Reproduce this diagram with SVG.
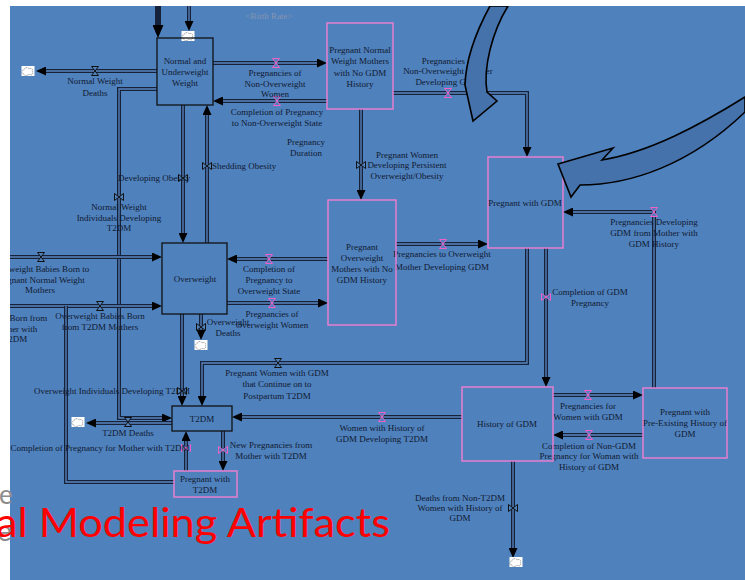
<svg xmlns="http://www.w3.org/2000/svg" width="745" height="580" viewBox="0 0 745 580">
<style>
.po{fill:none;stroke:#16223a;stroke-width:4}
.pi{fill:none;stroke:#5b87c0;stroke-width:1.3}
.nb{fill:none;stroke:#111;stroke-width:1.3}
.np{fill:none;stroke:#F27ED2;stroke-width:1.4}
.t{font-family:"Liberation Serif","Times New Roman",serif;font-size:9px;fill:#0f1a30;text-anchor:middle}
.ts{text-anchor:start}
.vk{fill:#4F81BD;stroke:#111;stroke-width:1}
.vp{fill:#4F81BD;stroke:#F060C8;stroke-width:1}
.big{fill:#4672AC;stroke:#000;stroke-width:1.6;stroke-linejoin:miter}
</style>
<defs>
<marker id="ah" viewBox="0 0 10 9" refX="0" refY="4.5" markerWidth="10" markerHeight="9" orient="auto" markerUnits="userSpaceOnUse"><path d="M0,0L10,4.5L0,9Z" fill="#000"/></marker>
<marker id="ahb" viewBox="0 0 13 11" refX="0" refY="5.5" markerWidth="13" markerHeight="11" orient="auto" markerUnits="userSpaceOnUse"><path d="M0,0L13,5.5L0,11Z" fill="#000"/></marker>
<path id="vh" d="M-3.5,-4.5H3.5L-3.5,4.5H3.5Z"/>
<path id="vv" d="M-4.5,-3.5V3.5L4.5,-3.5V3.5Z"/>
<g id="cloud"><rect x="-6.5" y="-5" width="13" height="10" fill="#fff"/><path d="M-4,3C-7,3 -7,-1 -4,-1C-4,-4 1,-4 1,-2C4,-4 6,0 4,1C6,3 3,5 1,3C0,5 -4,5 -4,3Z" fill="#fff" stroke="#888" stroke-width="0.8" stroke-dasharray="1.5 0.8"/></g>
</defs>
<rect x="0" y="0" width="745" height="580" fill="#4F81BD"/>
<text class="t" x="269" y="19" style="fill:#8796b0">&lt;Birth Rate&gt;</text>
<g id="connectors">
<path class="po" d="M158,6V25" style="stroke-width:6" marker-end="url(#ahb)"/>
<path class="po" d="M189,6V21" marker-end="url(#ah)"/><path class="pi" d="M189,6V21"/>
<path class="po" d="M157,71H46" marker-end="url(#ah)"/><path class="pi" d="M157,71H46"/>
<path class="po" d="M213,63H317" marker-end="url(#ah)"/><path class="pi" d="M213,63H317"/>
<path class="po" d="M327,101H223" marker-end="url(#ah)"/><path class="pi" d="M327,101H223"/>
<path class="po" d="M157,89H119V418H162" marker-end="url(#ah)"/><path class="pi" d="M157,89H119V418H162"/>
<path class="po" d="M172,423H96" marker-end="url(#ah)"/><path class="pi" d="M172,423H96"/>
<path class="po" d="M183,105V233" marker-end="url(#ah)"/><path class="pi" d="M183,105V233"/>
<path class="po" d="M207,243V115" marker-end="url(#ah)"/><path class="pi" d="M207,243V115"/>
<path class="po" d="M10,257H152" marker-end="url(#ah)"/><path class="pi" d="M10,257H152"/>
<path class="po" d="M10,306H152" marker-end="url(#ah)"/><path class="pi" d="M10,306H152"/>
<path class="po" d="M174,482H66V306"/><path class="pi" d="M174,482H66V306"/>
<path class="po" d="M328,259H237" marker-end="url(#ah)"/><path class="pi" d="M328,259H237"/>
<path class="po" d="M227,303H318" marker-end="url(#ah)"/><path class="pi" d="M227,303H318"/>
<path class="po" d="M201,314V330" marker-end="url(#ah)"/><path class="pi" d="M201,314V330"/>
<path class="po" d="M182,314V396" marker-end="url(#ah)"/><path class="pi" d="M182,314V396"/>
<path class="po" d="M527,248V363H202V396" marker-end="url(#ah)"/><path class="pi" d="M527,248V363H202V396"/>
<path class="po" d="M396,244H478" marker-end="url(#ah)"/><path class="pi" d="M396,244H478"/>
<path class="po" d="M361,109V190" marker-end="url(#ah)"/><path class="pi" d="M361,109V190"/>
<path class="po" d="M393,93H527V147" marker-end="url(#ah)"/><path class="pi" d="M393,93H527V147"/>
<path class="po" d="M654,388V212H573" marker-end="url(#ah)"/><path class="pi" d="M654,388V212H573"/>
<path class="po" d="M546,248V377" marker-end="url(#ah)"/><path class="pi" d="M546,248V377"/>
<path class="po" d="M553,395H633" marker-end="url(#ah)"/><path class="pi" d="M553,395H633"/>
<path class="po" d="M643,435H563" marker-end="url(#ah)"/><path class="pi" d="M643,435H563"/>
<path class="po" d="M462,417H242" marker-end="url(#ah)"/><path class="pi" d="M462,417H242"/>
<path class="po" d="M513,461V548" marker-end="url(#ah)"/><path class="pi" d="M513,461V548"/>
<path class="po" d="M186,471V441" marker-end="url(#ah)"/><path class="pi" d="M186,471V441"/>
<path class="po" d="M223,431V461" marker-end="url(#ah)"/><path class="pi" d="M223,431V461"/>
<use href="#cloud" x="28" y="71"/>
<use href="#cloud" x="188" y="36"/>
<use href="#cloud" x="201" y="345"/>
<use href="#cloud" x="78" y="422"/>
<use href="#cloud" x="516" y="562"/>
<use href="#vh" class="vk" x="95" y="71"/>
<use href="#vh" class="vp" x="276" y="63"/>
<use href="#vh" class="vp" x="277" y="101"/>
<use href="#vv" class="vk" x="119" y="197"/>
<use href="#vh" class="vk" x="128" y="422"/>
<use href="#vv" class="vk" x="183" y="178"/>
<use href="#vv" class="vk" x="207" y="166"/>
<use href="#vh" class="vk" x="41" y="257"/>
<use href="#vh" class="vk" x="100" y="306"/>
<use href="#vh" class="vp" x="269" y="259"/>
<use href="#vh" class="vp" x="272" y="303"/>
<use href="#vv" class="vk" x="201" y="327"/>
<use href="#vv" class="vk" x="182" y="391"/>
<use href="#vh" class="vk" x="278" y="363"/>
<use href="#vh" class="vp" x="443" y="244"/>
<use href="#vv" class="vk" x="361" y="165"/>
<use href="#vh" class="vp" x="448" y="93"/>
<use href="#vh" class="vp" x="654" y="212"/>
<use href="#vv" class="vp" x="546" y="297"/>
<use href="#vh" class="vp" x="588" y="395"/>
<use href="#vh" class="vp" x="589" y="435"/>
<use href="#vh" class="vp" x="382" y="417"/>
<use href="#vv" class="vk" x="513" y="508"/>
<use href="#vv" class="vp" x="186" y="448"/>
<use href="#vv" class="vp" x="223" y="450"/>
<text class="t" x="95" y="84">Normal Weight</text><text class="t" x="95" y="96">Deaths</text>
<text class="t" x="275" y="76">Pregnancies of</text><text class="t" x="275" y="87">Non-Overweight</text><text class="t" x="275" y="97">Women</text>
<text class="t" x="277" y="115">Completion of Pregnancy</text><text class="t" x="277" y="126">to Non-Overweight State</text>
<text class="t" x="306" y="145">Pregnancy</text><text class="t" x="306" y="156">Duration</text>
<text class="t" x="407" y="158">Pregnant Women</text><text class="t" x="407" y="168">Developing Persistent</text><text class="t" x="407" y="179">Overweight/Obesity</text>
<text class="t" x="448" y="64">Pregnancies to</text><text class="t" x="448" y="74">Non-Overweight Mother</text><text class="t" x="448" y="85">Developing GDM</text>
<text class="t ts" x="118" y="181">Developing Obesity</text>
<text class="t ts" x="212" y="169">Shedding Obesity</text>
<text class="t" x="119" y="210">Normal Weight</text><text class="t" x="119" y="221">Individuals Developing</text><text class="t" x="119" y="231">T2DM</text>
<text class="t" x="40" y="272">Overweight Babies Born to</text><text class="t" x="40" y="283">Pregnant Normal Weight</text><text class="t" x="40" y="293">Mothers</text>
<text class="t" x="15" y="321">Babies Born from</text><text class="t" x="15" y="332">Mother with</text><text class="t" x="15" y="342">T2DM</text>
<text class="t" x="100" y="319">Overweight Babies Born</text><text class="t" x="100" y="330">from T2DM Mothers</text>
<text class="t" x="269" y="272">Completion of</text><text class="t" x="269" y="283">Pregnancy to</text><text class="t" x="269" y="294">Overweight State</text>
<text class="t" x="272" y="317">Pregnancies of</text><text class="t" x="272" y="328">Overweight Women</text>
<text class="t" x="228" y="325">Overweight</text><text class="t" x="228" y="336">Deaths</text>
<text class="t" x="442" y="257">Pregnancies to Overweight</text><text class="t" x="442" y="270">Mother Developing GDM</text>
<text class="t" x="654" y="225">Pregnancies Developing</text><text class="t" x="654" y="236">GDM from Mother with</text><text class="t" x="654" y="247">GDM History</text>
<text class="t" x="590" y="295">Completion of GDM</text><text class="t" x="590" y="306">Pregnancy</text>
<text class="t" x="277" y="376">Pregnant Women with GDM</text><text class="t" x="277" y="387">that Continue on to</text><text class="t" x="277" y="399">Postpartum T2DM</text>
<text class="t" x="112" y="394">Overweight Individuals Developing T2DM</text>
<text class="t" x="128" y="436">T2DM Deaths</text>
<text class="t" x="100" y="451">Completion of Pregnancy for Mother with T2DM</text>
<text class="t" x="271" y="448">New Pregnancies from</text><text class="t" x="271" y="459">Mother with T2DM</text>
<text class="t" x="382" y="431">Women with History of</text><text class="t" x="382" y="442">GDM Developing T2DM</text>
<text class="t" x="588" y="409">Pregnancies for</text><text class="t" x="588" y="420">Women with GDM</text>
<text class="t" x="589" y="449">Completion of Non-GDM</text><text class="t" x="589" y="459">Pregnancy for Woman with</text><text class="t" x="589" y="470">History of GDM</text>
<text class="t" x="460" y="501">Deaths from Non-T2DM</text><text class="t" x="460" y="511">Women with History of</text><text class="t" x="460" y="521">GDM</text>
</g>
<g id="n-normal"><rect class="nb" x="157" y="38" width="56" height="67"/><text class="t" x="185" y="64">Normal and</text><text class="t" x="185" y="75">Underweight</text><text class="t" x="185" y="86">Weight</text></g>
<g id="n-pregnormal"><rect class="np" x="327" y="23" width="66" height="86"/><text class="t" x="360" y="53">Pregnant Normal</text><text class="t" x="360" y="64">Weight Mothers</text><text class="t" x="360" y="76">with No GDM</text><text class="t" x="360" y="87">History</text></g>
<g id="n-preggdm"><rect class="np" x="488" y="157" width="75" height="91"/><text class="t" x="525" y="206">Pregnant with GDM</text></g>
<g id="n-overweight"><rect class="nb" x="162" y="243" width="65" height="71"/><text class="t" x="195" y="282">Overweight</text></g>
<g id="n-pregow"><rect class="np" x="328" y="200" width="68" height="125"/><text class="t" x="362" y="250">Pregnant</text><text class="t" x="362" y="261">Overweight</text><text class="t" x="362" y="272">Mothers with No</text><text class="t" x="362" y="283">GDM History</text></g>
<g id="n-t2dm"><rect class="nb" x="172" y="406" width="60" height="25"/><text class="t" x="202" y="422">T2DM</text></g>
<g id="n-pregt2dm"><rect class="np" x="174" y="471" width="63" height="26"/><text class="t" x="205" y="482">Pregnant with</text><text class="t" x="205" y="493">T2DM</text></g>
<g id="n-histgdm"><rect class="np" x="462" y="387" width="91" height="74"/><text class="t" x="507" y="427">History of GDM</text></g>
<g id="n-preexist"><rect class="np" x="643" y="388" width="84" height="70"/><text class="t" x="685" y="415">Pregnant with</text><text class="t" x="685" y="426">Pre-Existing History of</text><text class="t" x="685" y="437">GDM</text></g>
<path class="big" d="M490,6C478,28 466,55 465,85L473,121L497,101L487,92C483,68 492,32 508,6Z"/>
<path class="big" d="M745,97C700,125 650,152 602,160L613,148L558,164L571,197L580,185C630,185 690,165 745,112Z"/>
<rect x="0" y="0" width="745" height="6" fill="#fff"/>
<rect x="0" y="0" width="10" height="580" fill="#fff"/>
<text x="-1" y="504" font-family="Lato, 'Open Sans', sans-serif" font-size="26" fill="#8c8c8c">e</text>
<text x="-3" y="541" font-family="Lato, 'Open Sans', sans-serif" font-size="28" fill="#8c8c8c">e</text>
<text x="-4" y="537" font-family="Lato, 'Open Sans', sans-serif" font-size="40" fill="#ff0000" textLength="394" lengthAdjust="spacingAndGlyphs">al Modeling Artifacts</text>
</svg>
